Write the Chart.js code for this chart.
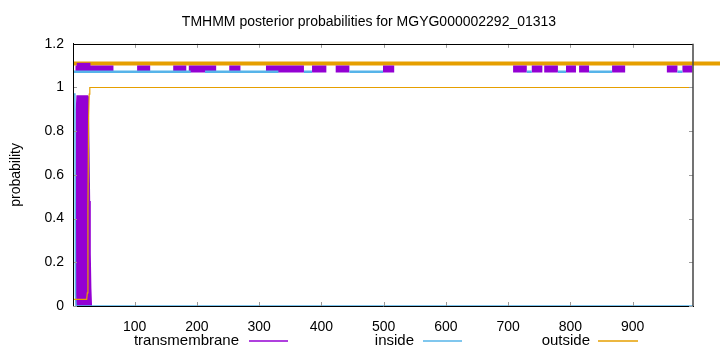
<!DOCTYPE html>
<html><head><meta charset="utf-8">
<script src="https://cdn.jsdelivr.net/npm/chart.js@4"></script>
<style>html,body{margin:0;padding:0;background:#fff;}canvas{display:block;}</style>
</head><body>
<canvas id="c" width="720" height="352"></canvas>
<script>
const titleText = 'TMHMM posterior probabilities for MGYG000002292_01313';
const yAxisTitle = 'probability';
const seriesNames = ['transmembrane', 'inside', 'outside'];
const seriesColors = ['#9400D3', '#56B4E9', '#E69F00'];
const xTickValues = [100, 200, 300, 400, 500, 600, 700, 800, 900];
const yTickValues = [0, 0.2, 0.4, 0.6, 0.8, 1, 1.2];
const yTickLabels = ['0', '0.2', '0.4', '0.6', '0.8', '1', '1.2'];
const seqStart = 1;
const seqLength = 997;

// posterior probability curves (position, probability)
const tmPos = [6, 7, 8, 24, 25, 26, 27, 28, 29, 30];
const tmProb = [0, 0.9, 0.96, 0.96, 0.9, 0.72, 0.48, 0.24, 0.08, 0];
const insidePos = [1, 4, 5, 6, 997];
const insideProb = [0.97, 0.97, 0.05, 0, 0];
const outsidePos = [1, 23, 24, 25, 26, 27, 28, 997];
const outsideProb = [0.03, 0.03, 0.06, 0.45, 0.85, 0.97, 1, 1];

// predicted topology segments [from, to]
const tmSegments = [[5, 66], [104, 125], [162, 183], [187, 231], [252, 270], [311, 372], [385, 408], [423, 445], [499, 517], [708, 730], [738, 755], [758, 780], [793, 809], [814, 830], [867, 888], [955, 972], [980, 996], [1001, 1023], [1035, 1056]];
const tmCoreSegments = [[7, 29]];
const insideSegments = [[1, 190], [213, 331], [372, 385], [445, 499], [730, 738], [780, 793], [830, 867], [972, 980], [1023, 1035]];
const outsideSegments = [[1, 1060]];
const levelTm = 1.085;
const levelTmCore = 1.09;
const levelInside = 1.072;
const levelOutside = 1.11;

const toPoints = (xs, ys) => xs.map((x, i) => ({x: x, y: ys[i]}));
const segPoints = (segs, level) => segs.flatMap(([a, b]) => [{x: a, y: level}, {x: b, y: level}, {x: b, y: null}]);

const FONT = 'Liberation Sans';

const framePlugin = {
  id: 'frame',
  afterDraw(chart) {
    const {ctx, chartArea: a, scales: {x, y}} = chart;
    ctx.save();
    ctx.strokeStyle = '#9a9a9a';
    ctx.lineWidth = 1;
    ctx.beginPath();
    xTickValues.forEach(v => {
      const px = Math.round(x.getPixelForValue(v)) + 0.5;
      ctx.moveTo(px, a.bottom); ctx.lineTo(px, a.bottom - 4);
      ctx.moveTo(px, a.top); ctx.lineTo(px, a.top + 4);
    });
    yTickValues.forEach(v => {
      const py = Math.round(y.getPixelForValue(v)) + 0.5;
      ctx.moveTo(a.left, py); ctx.lineTo(a.left + 4, py);
      ctx.moveTo(a.right, py); ctx.lineTo(a.right - 4, py);
    });
    ctx.stroke();
    ctx.strokeStyle = '#000';
    ctx.lineWidth = 1;
    ctx.beginPath();
    ctx.moveTo(a.left, Math.round(a.top) + 0.5); ctx.lineTo(a.right, Math.round(a.top) + 0.5);
    ctx.moveTo(Math.round(a.left) + 0.5, a.top); ctx.lineTo(Math.round(a.left) + 0.5, a.bottom);
    ctx.stroke();
    ctx.strokeStyle = '#444';
    ctx.lineWidth = 1.5;
    ctx.beginPath();
    ctx.moveTo(a.right, a.top); ctx.lineTo(a.right, a.bottom);
    ctx.stroke();
    // key
    ctx.font = '15px "' + FONT + '"';
    ctx.fillStyle = '#000';
    ctx.textAlign = 'right';
    ctx.textBaseline = 'middle';
    const keyY = 341;
    const keyTextRight = [239, 414, 590];
    const keySample = [[249, 288], [423, 462], [598, 638]];
    seriesNames.forEach((name, i) => {
      ctx.fillText(name, keyTextRight[i], keyY);
      ctx.strokeStyle = seriesColors[i];
      ctx.lineWidth = 1.5;
      ctx.beginPath();
      ctx.moveTo(keySample[i][0], keyY); ctx.lineTo(keySample[i][1], keyY);
      ctx.stroke();
    });
    ctx.restore();
  }
};

new Chart(document.getElementById('c'), {
  type: 'line',
  data: {
    datasets: [
      {label: seriesNames[0], data: toPoints(tmPos, tmProb), borderColor: seriesColors[0], backgroundColor: seriesColors[0], borderWidth: 2, fill: 'origin', pointRadius: 0, tension: 0, order: 3},
      {label: seriesNames[1], data: toPoints(insidePos, insideProb), borderColor: seriesColors[1], borderWidth: 1.5, fill: false, pointRadius: 0, tension: 0, order: 2},
      {label: seriesNames[2], data: toPoints(outsidePos, outsideProb), borderColor: seriesColors[2], borderWidth: 1.2, fill: false, pointRadius: 0, tension: 0, order: 1},
      {label: 'outside segments', data: segPoints(outsideSegments, levelOutside), borderColor: seriesColors[2], borderWidth: 4, borderCapStyle: 'butt', fill: false, pointRadius: 0, spanGaps: false, clip: false, order: 9},
      {label: 'transmembrane segments', data: segPoints(tmSegments, levelTm), borderColor: seriesColors[0], borderWidth: 7, borderCapStyle: 'butt', fill: false, pointRadius: 0, spanGaps: false, clip: false, order: 8},
      {label: 'transmembrane core', data: segPoints(tmCoreSegments, levelTmCore), borderColor: seriesColors[0], borderWidth: 10, borderCapStyle: 'butt', fill: false, pointRadius: 0, spanGaps: false, clip: false, order: 7},
      {label: 'inside segments', data: segPoints(insideSegments, levelInside), borderColor: seriesColors[1], borderWidth: 2.5, borderCapStyle: 'butt', fill: false, pointRadius: 0, spanGaps: false, clip: false, order: 6}
    ]
  },
  options: {
    responsive: false,
    animation: false,
    devicePixelRatio: 1,
    layout: {padding: {left: 18, right: 0, top: 0, bottom: 0}},
    plugins: {
      legend: {display: false},
      tooltip: {enabled: false},
      title: {display: true, text: titleText, color: '#000', font: {family: FONT, size: 14, weight: 'normal'}, padding: {top: 14, bottom: 13}}
    },
    scales: {
      x: {
        type: 'linear', min: seqStart, max: seqLength,
        afterBuildTicks: s => { s.ticks = xTickValues.map(v => ({value: v})); },
        afterFit: s => { s.height = 46; },
        grid: {display: false, drawTicks: false},
        border: {display: true, color: '#000', width: 1},
        ticks: {color: '#000', font: {family: FONT, size: 14}, padding: 13, maxRotation: 0, autoSkip: false}
      },
      y: {
        type: 'linear', min: 0, max: 1.2,
        afterBuildTicks: s => { s.ticks = yTickValues.map(v => ({value: v})); },
        afterFit: s => { s.width = 55; },
        grid: {display: false, drawTicks: false},
        border: {display: true, color: '#000', width: 1},
        ticks: {color: '#000', font: {family: FONT, size: 14}, padding: 9, callback: (v, i) => yTickLabels[i]},
        title: {display: true, text: yAxisTitle, color: '#000', font: {family: FONT, size: 14}, padding: {top: -10, bottom: 0}}
      },
      yPad: {
        type: 'linear', position: 'right', display: true, min: 0, max: 1,
        afterFit: s => { s.width = 27; },
        grid: {display: false, drawTicks: false},
        border: {display: false},
        ticks: {display: false}
      }
    }
  },
  plugins: [framePlugin]
});
</script>
</body></html>
